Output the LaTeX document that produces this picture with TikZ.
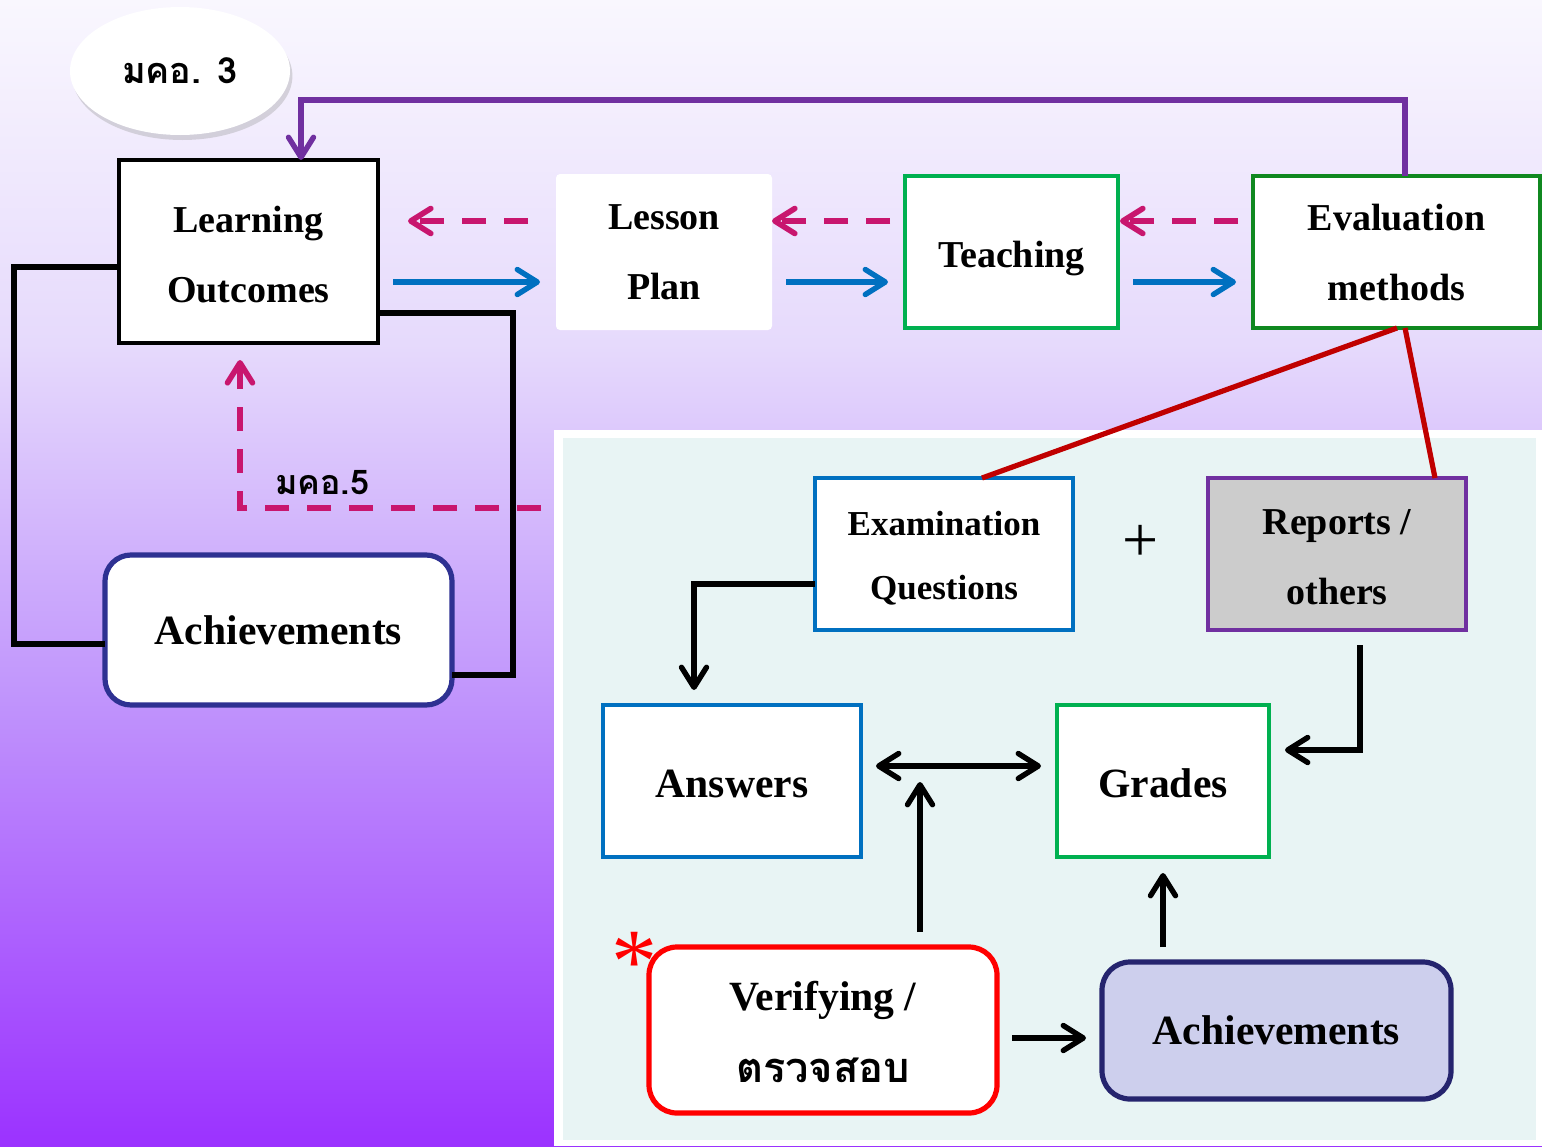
\documentclass[tikz,border=0pt]{standalone}
\usepackage{fontspec}
\setmainfont{Liberation Serif}
\newfontfamily\thaifont[Script=Thai]{Loma}
\usetikzlibrary{arrows.meta,shadows,shapes.geometric}
\definecolor{bgA}{RGB}{155,50,255}
\definecolor{bgB}{RGB}{192,148,252}
\definecolor{bgC}{RGB}{230,218,252}
\definecolor{bgD}{RGB}{249,247,254}
\definecolor{cpanel}{RGB}{232,244,244}
\definecolor{cpink}{RGB}{200,22,110}
\definecolor{cblue}{RGB}{0,112,192}
\definecolor{cgreen}{RGB}{0,176,80}
\definecolor{cdgreen}{RGB}{16,136,32}
\definecolor{cpurple}{RGB}{112,48,160}
\definecolor{cdred}{RGB}{192,0,0}
\definecolor{cred}{RGB}{255,0,0}
\definecolor{cnavy}{RGB}{46,49,146}
\definecolor{cnavyb}{RGB}{37,36,110}
\definecolor{clav}{RGB}{205,207,237}
\definecolor{cgray}{RGB}{204,204,204}
\pgfdeclareverticalshading{bgshade}{100bp}{color(0bp)=(bgA); color(25bp)=(bgA); color(44.5bp)=(bgB); color(60bp)=(bgC); color(75bp)=(bgD); color(100bp)=(bgD)}
\def\PX{0.5pt}
\tikzset{
  every node/.style={inner sep=0pt, outer sep=0pt},
  box/.style={draw, line width=2.4pt, fill=white, align=center, font=\fontsize{19}{35}\selectfont\bfseries},
  bigfont/.style={font=\fontsize{20.8}{36}\selectfont\bfseries},
  rbox/.style={box, rounded corners=14pt, line width=2.6pt},
  conn/.style={line width=2.7pt},
  barb/.tip={Straight Barb[length=10pt,width=12.5pt,line cap=round,line join=round]},
  tip/.style={-barb},
  pinkdash/.style={conn, line width=2.8pt, cpink, dash pattern=on 12pt off 9pt, tip},
  bluearrow/.style={conn, cblue, tip},
  blackarrow/.style={conn, black, tip},
}
\begin{document}
\begin{tikzpicture}[x=0.5pt,y=-0.5pt]
\useasboundingbox (0,0) rectangle (1542,1146);
\shade[shading=bgshade] (0,0) rectangle (1542,1146);
% panel
\fill[white] (554,430) rectangle (1542,1146);
\fill[cpanel] (563,438) rectangle (1536,1140);

% top row
\node[ellipse, fill=white, minimum width=220*\PX, minimum height=128*\PX,
  drop shadow={shadow xshift=1.2pt, shadow yshift=-2.5pt, fill=black!40, opacity=0.35}]
  (m3) at (180,71) {\thaifont\bfseries\fontsize{18}{22}\selectfont มคอ. 3};
\node[box, minimum width=259*\PX, minimum height=183*\PX] (lo) at (248.5,251.5) {\rule{0pt}{16pt}Learning\\Outcomes};
\node[box, draw=none, rounded corners=2pt, minimum width=216*\PX, minimum height=156*\PX] (lesson) at (664,252) {Lesson\\Plan};
\node[box, draw=cgreen, minimum width=213*\PX, minimum height=152*\PX] (teach) at (1011.5,252) {\rule{0pt}{20pt}Teaching};
\node[box, draw=cdgreen, minimum width=287*\PX, minimum height=152*\PX] (eval) at (1396.5,252) {Evaluation\\methods};

\node[rbox, draw=cnavy, bigfont, rounded corners=13pt, minimum width=347*\PX, minimum height=150*\PX] (achL) at (278.5,630) {Achievements};

% panel boxes
\node[box, draw=cblue, font=\fontsize{17.5}{32}\selectfont\bfseries, minimum width=258*\PX, minimum height=152*\PX] (exam) at (944,554) {\rule{0pt}{16pt}Examination\\Questions};
\node[box, draw=cpurple, fill=cgray, minimum width=258*\PX, minimum height=152*\PX] (rep) at (1337,554) {\rule{0pt}{16pt}Reports /\\others};
\node[box, draw=cblue, bigfont, minimum width=258*\PX, minimum height=152*\PX] (ans) at (732,781) {\rule{0pt}{17pt}Answers};
\node[box, draw=cgreen, bigfont, minimum width=212*\PX, minimum height=152*\PX] (grades) at (1163,781) {\rule{0pt}{17pt}Grades};
\node[rbox, draw=cred, font=\fontsize{20.8}{36}\selectfont\bfseries, minimum width=348*\PX, minimum height=166*\PX] (verif) at (823,1030) {\rule{0pt}{17pt}Verifying /\\{\thaifont ตรวจสอบ}};
\node[rbox, draw=cnavyb, fill=clav, bigfont, minimum width=349*\PX, minimum height=137*\PX] (achR) at (1276.5,1030.5) {Achievements};

\node[font=\fontsize{32}{32}\selectfont] (plus) at (1141,543) {+};
\node[font=\fontsize{46}{46}\selectfont, text=cred] (ast) at (634,962) {*};
\node[font=\thaifont\bfseries\fontsize{17}{22}\selectfont] (m5) at (322,483) {มคอ.5};

% purple feedback
\coordinate (pA) at (1405,100);
\coordinate (pB) at (301,100);
\draw[conn, cpurple, tip] (eval.north -| pA) -- (pA) -- (pB) -- (lo.north -| pB);

% pink dashed back arrows
\draw[pinkdash, shorten <=14pt, shorten >=15pt] (lesson.west |- 0,221) -- (lo.east |- 0,221);
\draw[pinkdash, shorten <=7.5pt] (teach.west |- 0,221) -- (lesson.east |- 0,221);
\draw[pinkdash, shorten <=7.5pt, shorten >=1pt] (eval.west |- 0,221) -- (teach.east |- 0,221);

% blue forward arrows
\draw[bluearrow, shorten <=7.5pt, shorten >=8pt] (lo.east |- 0,282) -- (lesson.west |- 0,282);
\draw[bluearrow, shorten <=7pt, shorten >=8.5pt] (lesson.east |- 0,282) -- (teach.west |- 0,282);
\draw[bluearrow, shorten <=7.5pt, shorten >=8.5pt] (teach.east |- 0,282) -- (eval.west |- 0,282);

% black loop Learning Outcomes - Achievements
\draw[line width=2.6pt, line join=miter] (lo.west |- 0,267) -- (14,267) -- (14,644) -- (achL.west |- 0,644);
\draw[line width=2.6pt, line join=miter] (lo.east |- 0,313) -- (513,313) -- (513,675) -- (achL.east |- 0,675);

% pink dashed up to Learning Outcomes
\coordinate (q5) at (541,508);
\draw[pinkdash, shorten >=8.5pt] (q5) -| (lo.south -| 240,0);

% red lines
\draw[line width=2.6pt, cdred] (eval.south -| 1397,0) -- (exam.north -| 982,0);
\draw[line width=2.6pt, cdred] (eval.south -| 1405,0) -- (rep.north -| 1435,0);

% black arrows in panel
\draw[blackarrow, shorten >=7.5pt] (exam.west |- 0,584) -- (694,584) -- (ans.north -| 694,0);
\draw[conn, black, barb-barb, shorten <=7.5pt, shorten >=8pt] (ans.east |- 0,766) -- (grades.west |- 0,766);
\draw[blackarrow, shorten <=7.5pt] (verif.north -| 920,0) -- (920,782);
\draw[blackarrow, shorten <=7.5pt, shorten >=8pt] (rep.south -| 1360,0) -- (1360,750) -- (grades.east |- 0,750);
\draw[blackarrow, shorten <=7.5pt, shorten >=8pt] (verif.east |- 0,1038) -- (achR.west |- 0,1038);
\draw[blackarrow, shorten <=7.5pt, shorten >=8pt] (achR.north -| 1163,0) -- (grades.south -| 1163,0);
\end{tikzpicture}
\end{document}
